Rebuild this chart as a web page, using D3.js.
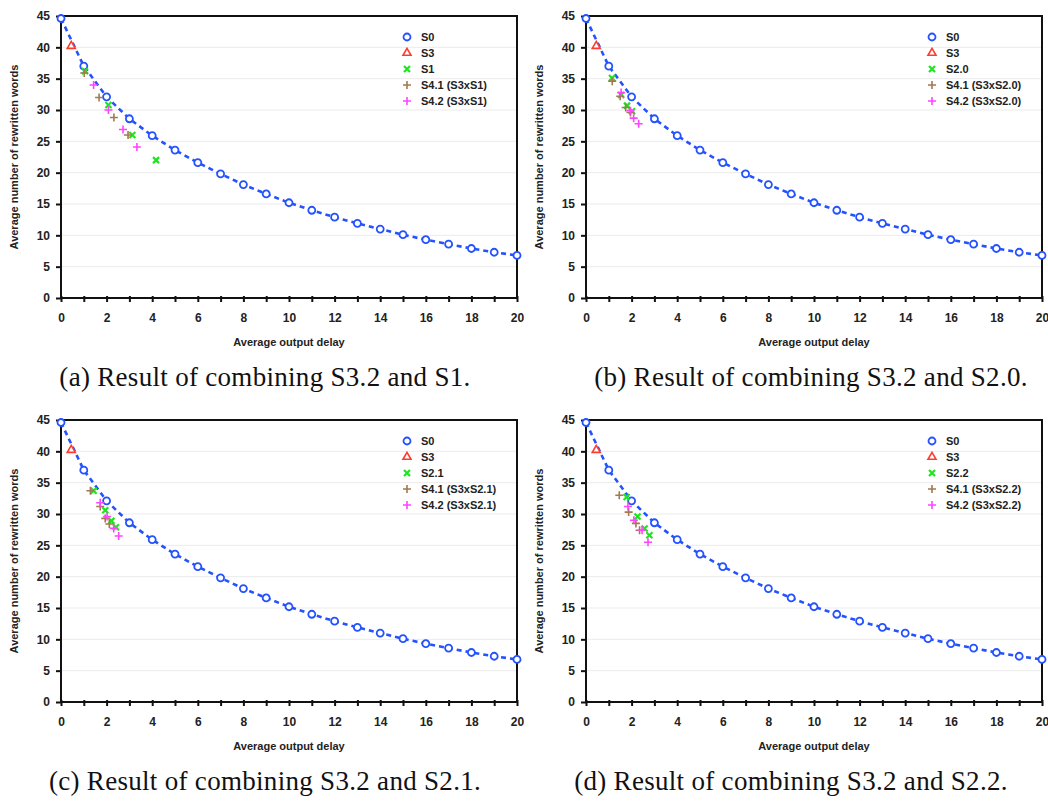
<!DOCTYPE html>
<html>
<head>
<meta charset="utf-8">
<script src="https://cdn.jsdelivr.net/npm/d3@7"></script>
<style>
  body { margin: 0; background: #fff; }
  .tick text, .lbl { font-family: "Liberation Sans", Arial, sans-serif; font-weight: bold; fill: #222; }
  .caption { font-family: "Liberation Serif", "DejaVu Serif", serif; fill: #111; }
</style>
</head>
<body>
<div id="chart"></div>
<script>
// baseline S0 curve, same in every panel
var s0X = [0, 1, 2, 3, 4, 5, 6, 7, 8, 9, 10, 11, 12, 13, 14, 15, 16, 17, 18, 19, 20];
var s0Y = [44.6, 37.0, 32.1, 28.6, 25.9, 23.6, 21.6, 19.8, 18.1, 16.6, 15.2, 14.0, 12.9, 11.9, 11.0, 10.1, 9.3, 8.6, 7.9, 7.3, 6.8];
var s3X = [0.45];
var s3Y = [40.2];

// per panel series: [other strategy, S4.1, S4.2]
var panelNames = ["S1", "S2.0", "S2.1", "S2.2"];
var captions = [
  "(a) Result of combining S3.2 and S1.",
  "(b) Result of combining S3.2 and S2.0.",
  "(c) Result of combining S3.2 and S2.1.",
  "(d) Result of combining S3.2 and S2.2."
];

var aX = [1.05, 2.08, 3.13, 4.17], aY = [36.2, 30.8, 26.0, 22.0];
var a41X = [1.02, 1.67, 2.32, 2.94], a41Y = [35.9, 32.0, 28.8, 26.0];
var a42X = [1.43, 2.08, 2.72, 3.33], a42Y = [34.0, 30.0, 26.9, 24.1];

var bX = [1.14, 1.54, 1.80, 2.02], bY = [35.1, 32.4, 30.7, 29.8];
var b41X = [1.15, 1.50, 1.74, 1.95], b41Y = [34.6, 32.2, 30.4, 29.6];
var b42X = [1.54, 1.95, 2.09, 2.31], b42Y = [32.8, 29.9, 28.7, 27.8];

var cX = [1.43, 1.94, 2.21, 2.41], cY = [33.7, 30.6, 28.9, 27.9];
var c41X = [1.29, 1.72, 1.94, 2.12], c41Y = [33.7, 31.2, 29.3, 28.4];
var c42X = [1.72, 2.02, 2.31, 2.53], c42Y = [31.8, 29.6, 27.7, 26.5];

var dX = [1.78, 2.26, 2.57, 2.78], dY = [32.7, 29.6, 27.7, 26.6];
var d41X = [1.46, 1.87, 2.19, 2.35], d41Y = [33.0, 30.3, 28.5, 27.4];
var d42X = [1.84, 2.10, 2.46, 2.72], d42Y = [31.2, 29.0, 27.4, 25.5];

var xTicks = [0, 2, 4, 6, 8, 10, 12, 14, 16, 18, 20];
var yTicks = [0, 5, 10, 15, 20, 25, 30, 35, 40, 45];

var panelData = [
  [[aX, aY], [a41X, a41Y], [a42X, a42Y]],
  [[bX, bY], [b41X, b41Y], [b42X, b42Y]],
  [[cX, cY], [c41X, c41Y], [c42X, c42Y]],
  [[dX, dY], [d41X, d41Y], [d42X, d42Y]]
];

var blue = "#2452ff", red = "#ff3b2f", green = "#1ee61e", brown = "#a47850", pink = "#ff44ff";

var _width = 1048, _height = 801;
var _plotW = 456, _plotH = 282;
var _origins = [[61, 16], [586, 16], [61, 420], [586, 420]];
var _captionX = [265, 811, 265, 791];

var svg = d3.select("#chart").append("svg")
  .attr("width", _width)
  .attr("height", _height);

function zip(xs, ys) {
  return xs.map(function (x, i) { return [x, ys[i]]; });
}

function drawMarker(g, kind, color) {
  if (kind == "circle") {
    g.append("circle").attr("r", 3.5)
      .attr("fill", "#fff").attr("stroke", color).attr("stroke-width", 1.8);
  } else if (kind == "triangle") {
    g.append("path").attr("d", d3.symbol().type(d3.symbolTriangle).size(28)())
      .attr("fill", "#fff").attr("stroke", color).attr("stroke-width", 1.6);
  } else if (kind == "x") {
    g.append("path").attr("d", "M-3,-3L3,3M-3,3L3,-3")
      .attr("stroke", color).attr("stroke-width", 2.2);
  } else {
    g.append("path").attr("d", "M-4,0L4,0M0,-4L0,4")
      .attr("stroke", color).attr("stroke-width", 1.6);
  }
}

function renderPanel(p) {
  var ox = _origins[p][0], oy = _origins[p][1];
  var g = svg.append("g").attr("transform", "translate(" + ox + "," + oy + ")");

  var x = d3.scaleLinear().domain([0, 20]).range([0, _plotW]);
  var y = d3.scaleLinear().domain([0, 45]).range([_plotH, 0]);

  // gridlines
  g.selectAll("line.grid")
    .data(yTicks.filter(function (t) { return t > 0 && t < 45; }))
    .enter().append("line")
    .attr("class", "grid")
    .attr("x1", 0).attr("x2", _plotW)
    .attr("y1", function (d) { return y(d); })
    .attr("y2", function (d) { return y(d); })
    .attr("stroke", "#ebebeb").attr("stroke-width", 1);

  // frame
  g.append("rect")
    .attr("width", _plotW).attr("height", _plotH)
    .attr("fill", "none").attr("stroke", "#111").attr("stroke-width", 2);

  // axes
  var xAxis = g.append("g").attr("transform", "translate(0," + _plotH + ")")
    .call(d3.axisBottom(x).tickValues(d3.range(0, 21)).tickSize(4).tickPadding(11)
      .tickFormat(function (d) { return xTicks.indexOf(d) >= 0 ? d : ""; }));
  var yAxis = g.append("g")
    .call(d3.axisLeft(y).tickValues(yTicks).tickSize(5).tickPadding(6));

  [xAxis, yAxis].forEach(function (a) {
    a.select(".domain").remove();
    a.selectAll(".tick line").attr("stroke", "#111").attr("stroke-width", 2);
    a.selectAll(".tick text").attr("font-size", 12);
  });
  xAxis.selectAll(".tick line").attr("y1", -2);

  g.append("text").attr("class", "lbl")
    .attr("x", _plotW / 2).attr("y", _plotH + 48)
    .attr("text-anchor", "middle").attr("font-size", 11)
    .text("Average output delay");
  g.append("text").attr("class", "lbl")
    .attr("transform", "translate(-43," + (_plotH / 2) + ") rotate(-90)")
    .attr("text-anchor", "middle").attr("font-size", 11)
    .text("Average number of rewritten words");

  // S0 dashed line
  var line = d3.line()
    .x(function (d) { return x(d[0]); })
    .y(function (d) { return y(d[1]); });
  var s0 = zip(s0X, s0Y);
  g.append("path").datum(s0)
    .attr("d", line)
    .attr("fill", "none").attr("stroke", blue)
    .attr("stroke-width", 2.6).attr("stroke-dasharray", "5,4");

  var series = [
    {pts: zip(s3X, s3Y), kind: "triangle", color: red, name: "S3"},
    {pts: zip(panelData[p][0][0], panelData[p][0][1]), kind: "x", color: green, name: panelNames[p]},
    {pts: zip(panelData[p][1][0], panelData[p][1][1]), kind: "plus", color: brown, name: "S4.1 (S3x" + panelNames[p] + ")"},
    {pts: zip(panelData[p][2][0], panelData[p][2][1]), kind: "plus", color: pink, name: "S4.2 (S3x" + panelNames[p] + ")"}
  ];

  s0.forEach(function (d) {
    drawMarker(g.append("g").attr("transform", "translate(" + x(d[0]) + "," + y(d[1]) + ")"), "circle", blue);
  });
  series.forEach(function (s) {
    s.pts.forEach(function (d) {
      drawMarker(g.append("g").attr("transform", "translate(" + x(d[0]) + "," + y(d[1]) + ")"), s.kind, s.color);
    });
  });

  // legend
  var legend = [{kind: "circle", color: blue, name: "S0"}].concat(series);
  legend.forEach(function (s, i) {
    var lg = g.append("g").attr("transform", "translate(346," + (21 + i * 16) + ")");
    drawMarker(lg, s.kind, s.color);
    lg.append("text").attr("class", "lbl")
      .attr("x", 14).attr("dy", "0.35em").attr("font-size", 11)
      .text(s.name);
  });

  svg.append("text").attr("class", "caption")
    .attr("x", _captionX[p]).attr("y", oy + _plotH + 88)
    .attr("text-anchor", "middle").attr("font-size", 27)
    .attr("letter-spacing", 0.3)
    .text(captions[p]);
}

for (var p = 0; p < 4; p++) renderPanel(p);
</script>
</body>
</html>
